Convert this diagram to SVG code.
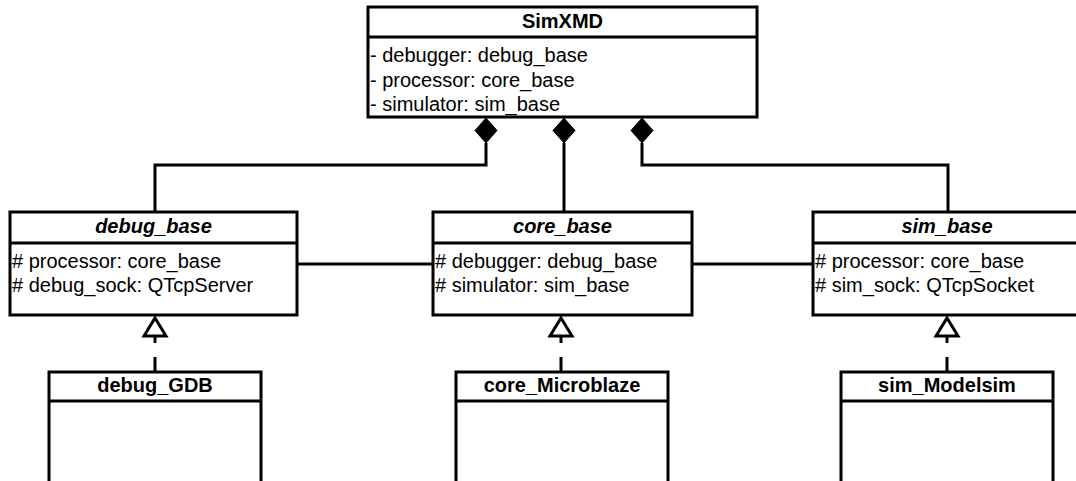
<svg xmlns="http://www.w3.org/2000/svg" width="1076" height="481" viewBox="0 0 1076 481">
<defs>
<style>
.box{fill:#fff;stroke:#000;stroke-width:3}
.sep{stroke:#000;stroke-width:3}
.ln{fill:none;stroke:#000;stroke-width:3}
.dash{fill:none;stroke:#000;stroke-width:3;stroke-dasharray:15 14}
.dia{fill:#000;stroke:#000;stroke-width:1}
.tri{fill:#fff;stroke:#000;stroke-width:3}
.t{font-family:"Liberation Sans",Arial,sans-serif;font-size:20px;fill:#000}
.h{font-family:"Liberation Sans",Arial,sans-serif;font-size:20px;font-weight:bold;fill:#000;text-anchor:middle}
.hi{font-style:italic}
</style>
</defs>
<rect width="1076" height="481" fill="#fff"/>
<g id="connectors">
<path class="ln" d="M486 143 V165 H155 V212"/>
<path class="ln" d="M564 143 V212"/>
<path class="ln" d="M642 143 V165 H948 V212"/>
<path class="ln" d="M297 264 H433"/>
<path class="ln" d="M692 264 H813"/>
<polygon class="dia" points="486,118 497,130.5 486,143 475,130.5"/>
<polygon class="dia" points="564,118 575,130.5 564,143 553,130.5"/>
<polygon class="dia" points="642,118 653,130.5 642,143 631,130.5"/>
<path class="dash" d="M155 372 V336"/>
<path class="dash" d="M561 372 V336"/>
<path class="dash" d="M947 372 V336"/>
<polygon class="tri" points="155,318 166,336 144,336"/>
<polygon class="tri" points="561,318 572,336 550,336"/>
<polygon class="tri" points="947,318 958,336 936,336"/>
</g>
<g id="SimXMD">
<rect class="box" x="368" y="7" width="389" height="110"/>
<line class="sep" x1="368" y1="37" x2="757" y2="37"/>
<text class="h" x="562.5" y="28">SimXMD</text>
<text class="t" x="370" y="62">- debugger: debug_base</text>
<text class="t" x="370" y="86.5">- processor: core_base</text>
<text class="t" x="370" y="111">- simulator: sim_base</text>
</g>
<g id="debug_base">
<rect class="box" x="10" y="212" width="287" height="103"/>
<line class="sep" x1="10" y1="243" x2="297" y2="243"/>
<text class="h hi" x="153.5" y="233">debug_base</text>
<text class="t" x="12" y="268"># processor: core_base</text>
<text class="t" x="12" y="292"># debug_sock: QTcpServer</text>
</g>
<g id="core_base">
<rect class="box" x="433" y="212" width="259" height="103"/>
<line class="sep" x1="433" y1="243" x2="692" y2="243"/>
<text class="h hi" x="562.5" y="233">core_base</text>
<text class="t" x="435" y="268"># debugger: debug_base</text>
<text class="t" x="435" y="292"># simulator: sim_base</text>
</g>
<g id="sim_base">
<rect class="box" x="813" y="212" width="287" height="103"/>
<line class="sep" x1="813" y1="243" x2="1100" y2="243"/>
<text class="h hi" x="947" y="233">sim_base</text>
<text class="t" x="815" y="268"># processor: core_base</text>
<text class="t" x="815" y="292"># sim_sock: QTcpSocket</text>
</g>
<g id="debug_GDB">
<rect class="box" x="49" y="372" width="212" height="130"/>
<line class="sep" x1="49" y1="401" x2="261" y2="401"/>
<text class="h" x="155" y="392">debug_GDB</text>
</g>
<g id="core_Microblaze">
<rect class="box" x="456" y="372" width="212" height="130"/>
<line class="sep" x1="456" y1="401" x2="668" y2="401"/>
<text class="h" x="562" y="392">core_Microblaze</text>
</g>
<g id="sim_Modelsim">
<rect class="box" x="841" y="372" width="212" height="130"/>
<line class="sep" x1="841" y1="401" x2="1053" y2="401"/>
<text class="h" x="947" y="392">sim_Modelsim</text>
</g>
</svg>
